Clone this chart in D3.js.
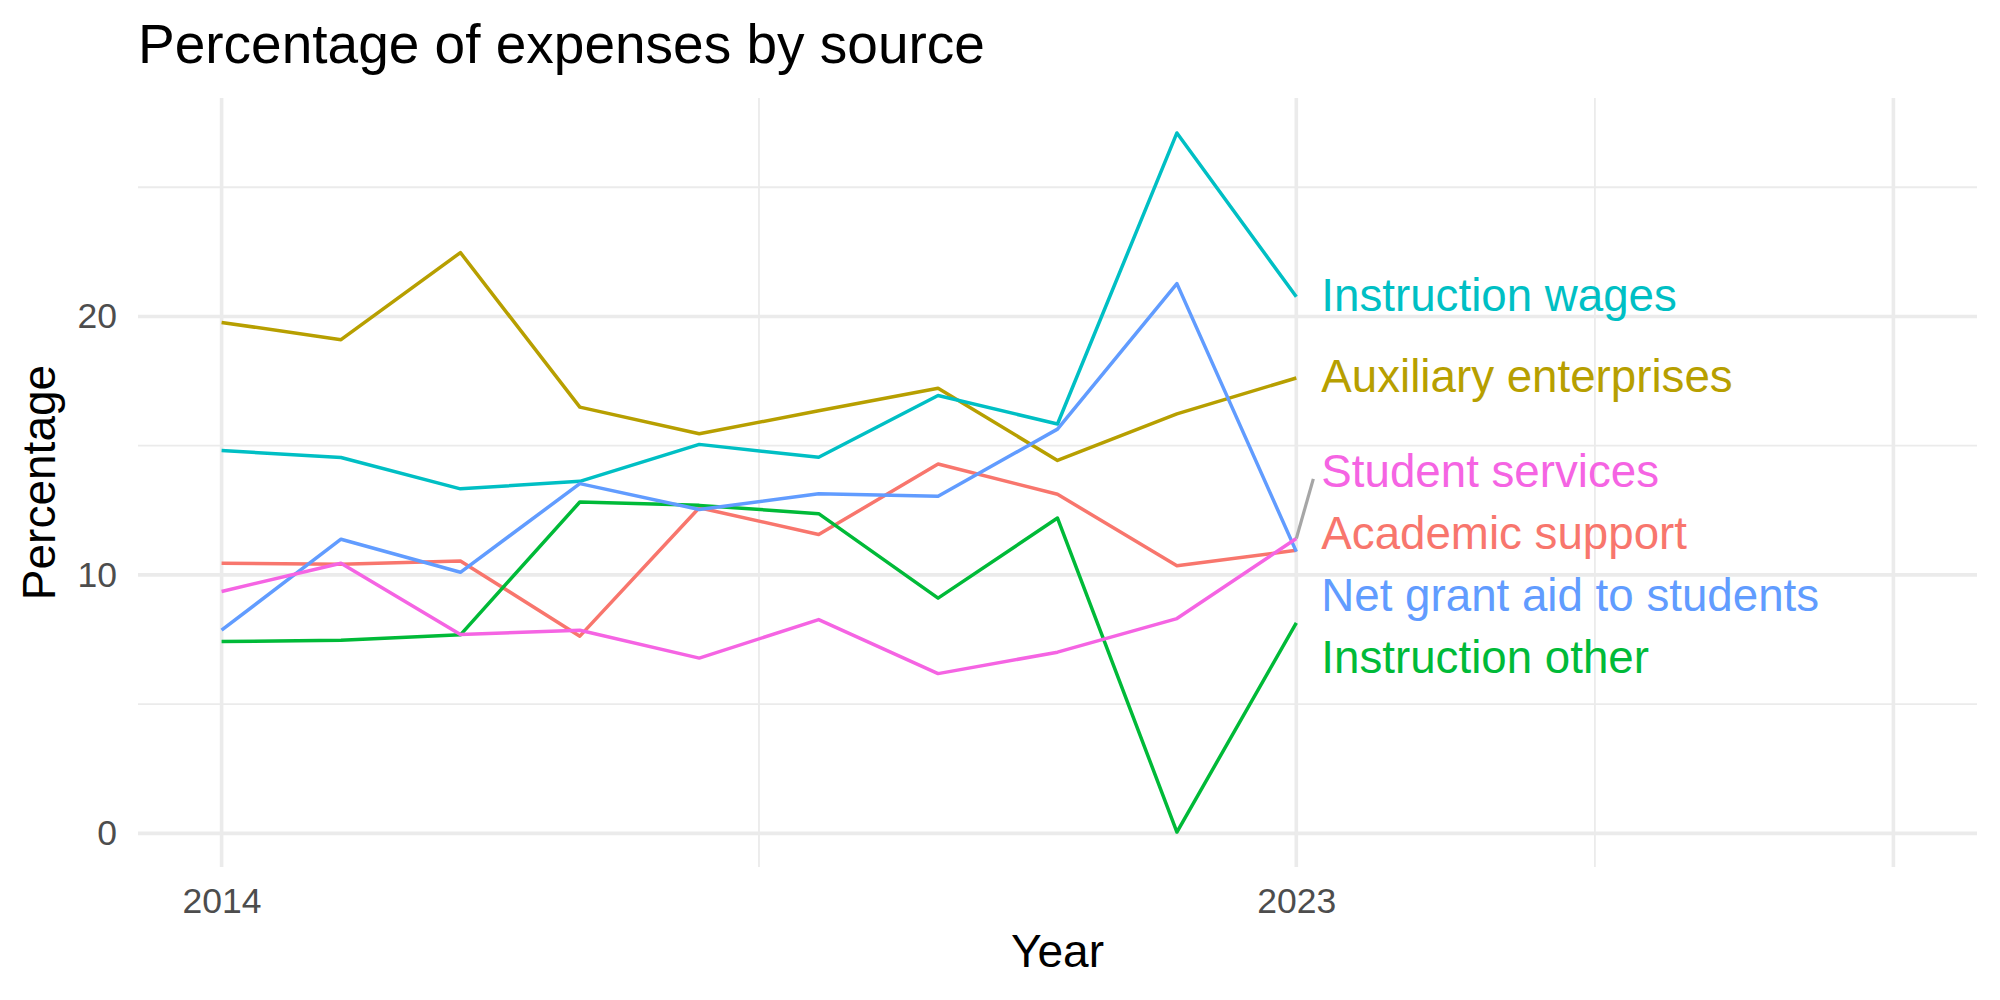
<!DOCTYPE html>
<html>
<head>
  <title>Percentage of expenses by source</title>
  <script src="https://d3js.org/d3.v7.min.js"></script>
  <style>
    body { margin: 0; background: #fff; }
    text { font-family: "Liberation Sans", Arial, Helvetica, sans-serif; }
  </style>
</head>
<body>
  <svg id="chart"></svg>
  <script>
    // data
    const years = [2014, 2015, 2016, 2017, 2018, 2019, 2020, 2021, 2022, 2023];
    const sources = ["Academic support", "Auxiliary enterprises", "Instruction other",
                     "Instruction wages", "Net grant aid to students", "Student services"];
    const academicSupport = [10.45, 10.41, 10.54, 7.63, 12.6, 11.56, 14.29, 13.12, 10.35, 10.95];
    const auxiliary       = [19.77, 19.1, 22.47, 16.49, 15.46, 16.35, 17.22, 14.43, 16.23, 17.62];
    const instrOther      = [7.42, 7.47, 7.68, 12.82, 12.69, 12.37, 9.1, 12.2, 0.05, 8.14];
    const instrWages      = [14.81, 14.54, 13.33, 13.62, 15.05, 14.55, 16.94, 15.84, 27.1, 20.76];
    const netGrantAid     = [7.86, 11.38, 10.1, 13.53, 12.53, 13.14, 13.04, 15.64, 21.27, 10.9];
    const studentServices = [9.36, 10.45, 7.69, 7.86, 6.78, 8.27, 6.18, 7.01, 8.31, 11.41];
    const xBreaks = [2014, 2023, 2028];
    const xLabels = ["2014", "2023", ""];
    const yBreaks = [0, 10, 20];

    const seriesValues = [academicSupport, auxiliary, instrOther, instrWages, netGrantAid, studentServices];
    const series = sources.map((name, i) => ({
      name: name,
      values: years.map((yr, j) => ({year: yr, value: seriesValues[i][j]}))
    }));

    // ggplot hue palette
    const color = d3.scaleOrdinal()
      .domain(sources)
      .range(["#F8766D", "#B79F00", "#00BA38", "#00BFC4", "#619CFF", "#F564E3"]);

    const W = 2000, H = 1000;
    const panel = {left: 138, right: 1977, top: 98, bottom: 867};

    const svg = d3.select("#chart").attr("width", W).attr("height", H);

    // scales with ggplot-like 5% expansion
    const xLim = [2014, 2028];
    const xPad = (xLim[1] - xLim[0]) * 0.05;
    const x = d3.scaleLinear()
      .domain([xLim[0] - xPad, xLim[1] + xPad])
      .range([panel.left, panel.right]);

    const allVals = seriesValues.flat();
    const yExt = d3.extent(allVals);
    const yPad = (yExt[1] - yExt[0]) * 0.05;
    const y = d3.scaleLinear()
      .domain([yExt[0] - yPad, yExt[1] + yPad])
      .range([panel.bottom, panel.top]);

    // minor breaks halfway between the major ones
    const yMinor = [5, 15, 25];
    const xMinor = d3.pairs(xBreaks).map(p => (p[0] + p[1]) / 2);

    const grid = svg.append("g");
    grid.selectAll(".ymin").data(yMinor).enter().append("line")
      .attr("x1", panel.left).attr("x2", panel.right)
      .attr("y1", d => y(d)).attr("y2", d => y(d))
      .attr("stroke", "#EBEBEB").attr("stroke-width", 1.8);
    grid.selectAll(".xmin").data(xMinor).enter().append("line")
      .attr("y1", panel.top).attr("y2", panel.bottom)
      .attr("x1", d => x(d)).attr("x2", d => x(d))
      .attr("stroke", "#EBEBEB").attr("stroke-width", 1.8);
    grid.selectAll(".ymaj").data(yBreaks).enter().append("line")
      .attr("x1", panel.left).attr("x2", panel.right)
      .attr("y1", d => y(d)).attr("y2", d => y(d))
      .attr("stroke", "#EBEBEB").attr("stroke-width", 3.6);
    grid.selectAll(".xmaj").data(xBreaks).enter().append("line")
      .attr("y1", panel.top).attr("y2", panel.bottom)
      .attr("x1", d => x(d)).attr("x2", d => x(d))
      .attr("stroke", "#EBEBEB").attr("stroke-width", 3.6);

    // axes (no domain line / ticks, like theme_minimal)
    const yAxis = svg.append("g")
      .attr("transform", "translate(" + panel.left + ",0)")
      .call(d3.axisLeft(y).tickValues(yBreaks).tickSize(0).tickPadding(21));
    yAxis.select(".domain").remove();
    yAxis.selectAll("text")
      .attr("font-size", 35.5).attr("fill", "#4D4D4D")
      .attr("font-family", "Liberation Sans, Arial, sans-serif");

    const xAxis = svg.append("g")
      .attr("transform", "translate(0," + panel.bottom + ")")
      .call(d3.axisBottom(x).tickValues(xBreaks).tickFormat((d, i) => xLabels[i]).tickSize(0).tickPadding(21));
    xAxis.select(".domain").remove();
    xAxis.selectAll("text")
      .attr("font-size", 35.5).attr("fill", "#4D4D4D")
      .attr("font-family", "Liberation Sans, Arial, sans-serif");

    // lines
    const line = d3.line().x(d => x(d.year)).y(d => y(d.value));
    svg.append("g").selectAll("path").data(series).enter().append("path")
      .attr("d", d => line(d.values))
      .attr("fill", "none")
      .attr("stroke", d => color(d.name))
      .attr("stroke-width", 3.5)
      .attr("stroke-linejoin", "round");

    // end labels, pushed apart so they don't overlap (isotonic fit)
    const gap = 62;
    const ends = series.map(s => ({name: s.name, target: y(s.values[s.values.length - 1].value)}))
      .sort((a, b) => a.target - b.target);
    let blocks = [];
    ends.forEach((e, i) => {
      blocks.push({sum: e.target - i * gap, n: 1});
      while (blocks.length > 1 &&
             blocks[blocks.length - 2].sum / blocks[blocks.length - 2].n >
             blocks[blocks.length - 1].sum / blocks[blocks.length - 1].n) {
        const b = blocks.pop();
        blocks[blocks.length - 1].sum += b.sum;
        blocks[blocks.length - 1].n += b.n;
      }
    });
    let k = 0;
    blocks.forEach(b => {
      for (let j = 0; j < b.n; j++, k++) ends[k].pos = b.sum / b.n + k * gap;
    });

    const lastYear = years[years.length - 1];
    const labelX = x(lastYear) + 25;

    svg.append("g").selectAll("line").data(ends.filter(e => Math.abs(e.pos - e.target) > 55)).enter()
      .append("line")
      .attr("x1", x(lastYear)).attr("y1", d => d.target)
      .attr("x2", labelX - 8).attr("y2", d => d.pos + 6)
      .attr("stroke", "#A6A6A6").attr("stroke-width", 3.2);

    svg.append("g").selectAll("text").data(ends).enter().append("text")
      .attr("x", labelX)
      .attr("y", d => d.pos)
      .attr("dy", "0.3em")
      .attr("font-size", 45.7)
      .attr("fill", d => color(d.name))
      .text(d => d.name);

    // titles
    svg.append("text")
      .attr("x", panel.left).attr("y", 63)
      .attr("font-size", 55).attr("fill", "#000")
      .text("Percentage of expenses by source");

    svg.append("text")
      .attr("x", (panel.left + panel.right) / 2).attr("y", 967)
      .attr("text-anchor", "middle")
      .attr("font-size", 46).attr("fill", "#000")
      .text("Year");

    svg.append("text")
      .attr("transform", "translate(55," + (panel.top + panel.bottom) / 2 + ")rotate(-90)")
      .attr("text-anchor", "middle")
      .attr("font-size", 46).attr("fill", "#000")
      .text("Percentage");
  </script>
</body>
</html>
